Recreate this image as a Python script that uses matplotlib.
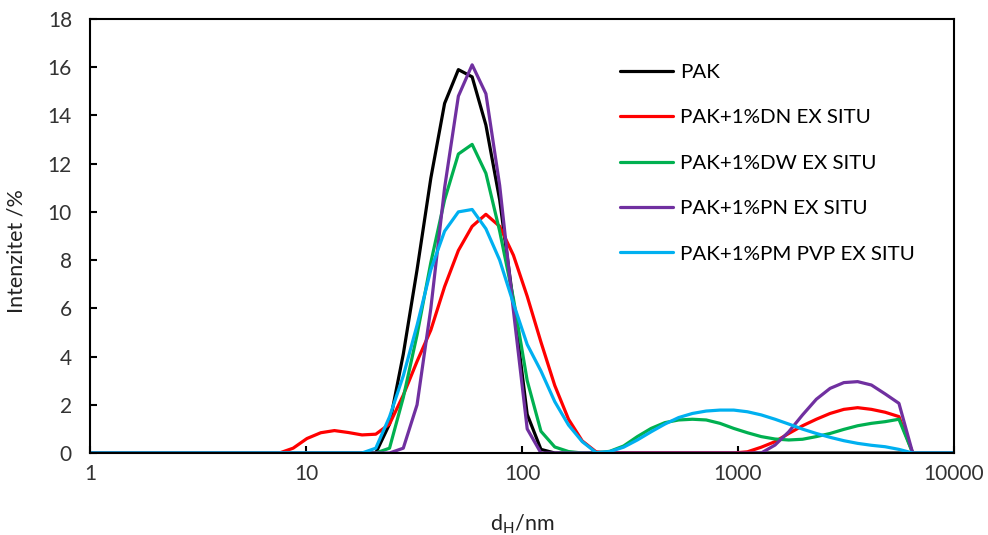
import matplotlib
matplotlib.use("Agg")
import matplotlib.pyplot as plt

plt.rcParams['font.family'] = ['Lato', 'DejaVu Sans']
plt.rcParams['mathtext.fontset'] = 'custom'
plt.rcParams['mathtext.rm'] = 'Lato'

# size classes (nm)
size_nm = [1.0, 7.53, 8.72, 10.1, 11.7, 13.54, 15.69, 18.17, 21.04, 24.36, 28.21,
           32.67, 37.84, 43.82, 50.75, 58.77, 68.06, 78.82, 91.28, 105.7, 122.4,
           141.8, 164.2, 190.1, 220.2, 255.0, 295.3, 342.0, 396.1, 458.7, 531.2,
           615.1, 712.4, 825.0, 955.4, 1106, 1281, 1484, 1718, 1990, 2305,
           2669, 3091, 3580, 4145, 4801, 5560, 6439, 7456, 8635, 10000]

pak = [0, 0, 0, 0, 0, 0, 0, 0, 0, 1.2, 4.1,
       7.6, 11.4, 14.5, 15.9, 15.6, 13.6, 10.5, 6.2, 1.6, 0.15,
       0, 0, 0, 0, 0, 0, 0, 0, 0, 0,
       0, 0, 0, 0, 0, 0, 0, 0, 0, 0,
       0, 0, 0, 0, 0, 0, 0, 0, 0, 0]

dn = [0, 0, 0.2, 0.6, 0.84, 0.93, 0.85, 0.75, 0.78, 1.2, 2.4,
      3.8, 5.1, 6.9, 8.4, 9.4, 9.9, 9.4, 8.2, 6.5, 4.6,
      2.8, 1.4, 0.5, 0.05, 0, 0, 0, 0, 0, 0,
      0, 0, 0, 0, 0.05, 0.24, 0.47, 0.81, 1.13, 1.40,
      1.64, 1.81, 1.88, 1.81, 1.69, 1.51, 0, 0, 0, 0]

dw = [0, 0, 0, 0, 0, 0, 0, 0, 0, 0.2, 2.3,
      4.9, 7.9, 10.5, 12.4, 12.8, 11.6, 9.2, 6.4, 3.0, 0.9,
      0.25, 0.06, 0, 0, 0.07, 0.29, 0.68, 1.02, 1.26, 1.37,
      1.40, 1.37, 1.23, 1.02, 0.84, 0.68, 0.58, 0.54, 0.57, 0.68,
      0.81, 0.98, 1.13, 1.23, 1.30, 1.40, 0, 0, 0, 0]

pn = [0, 0, 0, 0, 0, 0, 0, 0, 0, 0, 0.2,
      2.0, 6.0, 11.0, 14.8, 16.1, 14.9, 11.1, 5.9, 1.0, 0,
      0, 0, 0, 0, 0, 0, 0, 0, 0, 0,
      0, 0, 0, 0, 0, 0, 0.33, 0.88, 1.58, 2.23,
      2.68, 2.92, 2.96, 2.82, 2.45, 2.06, 0, 0, 0, 0]

pm_pvp = [0, 0, 0, 0, 0, 0, 0, 0, 0.2, 1.5, 3.2,
          5.3, 7.6, 9.2, 10.0, 10.1, 9.3, 8.0, 6.2, 4.5, 3.4,
          2.13, 1.16, 0.47, 0.02, 0.06, 0.24, 0.54, 0.88, 1.20, 1.47,
          1.64, 1.74, 1.78, 1.78, 1.71, 1.58, 1.40, 1.20, 0.99, 0.81,
          0.65, 0.51, 0.40, 0.32, 0.26, 0.15, 0, 0, 0, 0]

series = [pak, dn, dw, pn, pm_pvp]
labels = ["PAK", "PAK+1%DN EX SITU", "PAK+1%DW EX SITU",
          "PAK+1%PN EX SITU", "PAK+1%PM PVP EX SITU"]
colors = ["#000000", "#FF0000", "#00B050", "#7030A0", "#00B0F0"]

fig = plt.figure(figsize=(9.88, 5.35), dpi=100)
ax = fig.add_axes([90/988, 82/535, 864/988, 434/535])

for y, lab, col in zip(series, labels, colors):
    ax.plot(size_nm, y, color=col, linewidth=2.3, label=lab,
            solid_joinstyle='round', solid_capstyle='round')

ax.set_xscale('log')
ax.set_xlim(1, 10000)
ax.set_ylim(0, 18)
ax.set_yticks(range(0, 19, 2))
ax.set_xticks([1, 10, 100, 1000, 10000])
ax.set_xticklabels(["1", "10", "100", "1000", "10000"])
ax.minorticks_off()
ax.tick_params(axis='both', direction='in', length=5, width=1.5,
               labelsize=15, colors='#000000', labelcolor='#333333')
ax.tick_params(axis='y', pad=13)
ax.tick_params(axis='x', pad=8)
for s in ax.spines.values():
    s.set_linewidth(1.5)

ax.set_ylabel("Intenzitet /%", fontsize=15.5, color='#222222')
ax.set_xlabel(r"d$_{\mathregular{H}}$/nm", fontsize=15.5, color='#222222')
ax.yaxis.set_label_coords(-0.074, 0.465)
ax.xaxis.set_label_coords(0.5, -0.136)

ax.legend(loc='upper left', bbox_to_anchor=(0.613, 0.897), frameon=False,
          fontsize=14.75, handlelength=2.6, handletextpad=0.34,
          labelspacing=1.37, borderpad=0, borderaxespad=0)

fig.savefig("out.png", dpi=100)
